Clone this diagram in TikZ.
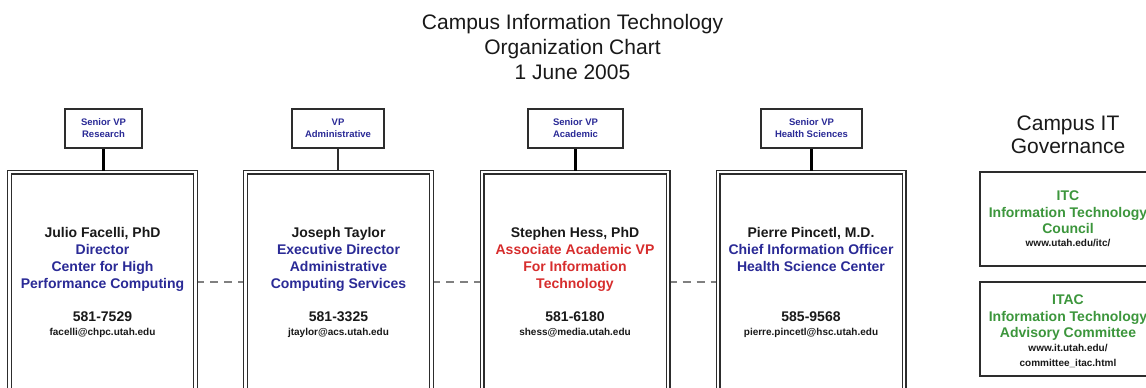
\documentclass[tikz,border=0pt]{standalone}
\usepackage{fontspec}
\setmainfont{Liberation Sans}
\definecolor{tblue}{RGB}{42,42,150}
\definecolor{tred}{RGB}{215,45,45}
\definecolor{tgreen}{RGB}{60,150,60}
\definecolor{tline}{RGB}{45,45,45}
\definecolor{ttext}{RGB}{25,25,25}
\begin{document}
\begin{tikzpicture}[x=1pt,y=-1pt,
  vpbox/.style={draw=tline, line width=1.3pt, minimum width=#1, minimum height=39pt,
    inner sep=0pt, align=center, text=tblue, font=\bfseries\fontsize{9.5}{12}\selectfont},
  bigbox/.style={draw=tline, double=white, double distance=2.6pt, line width=1.2pt,
    minimum width=186pt, minimum height=260pt, inner sep=0pt},
  govbox/.style={draw=tline, line width=1.3pt, minimum width=176pt, minimum height=94pt, inner sep=0pt},
  ln/.style={anchor=base, inner sep=0pt, font=\bfseries\fontsize{14}{17}\selectfont, text=ttext},
  sm/.style={anchor=base, inner sep=0pt, font=\bfseries\fontsize{10}{12}\selectfont, text=ttext},
  head/.style={anchor=base, inner sep=0pt, font=\fontsize{21}{25}\selectfont, text=ttext},
  thickc/.style={draw=black, line width=3pt},
  thinc/.style={draw=tline, line width=1.3pt},
  dashc/.style={draw=gray, line width=1.3pt, dash pattern=on 8pt off 6pt}
]
\useasboundingbox (0,0) rectangle (1146,388);
\clip (0,0) rectangle (1146,388);
\fill[white] (0,0) rectangle (1146,388);

% title
\node[head] (t1) at (572.5,29.5) {Campus Information Technology};
\node[head] (t2) at (572.5,54.5) {Organization Chart};
\node[head] (t3) at (572.5,79) {1 June 2005};

% VP boxes
\node[vpbox=77pt] (v1) at (103.5,128.5) {Senior VP\\Research};
\node[vpbox=92pt] (v2) at (338,128.5) {VP\\Administrative};
\node[vpbox=95pt] (v3) at (575.5,128.5) {Senior VP\\Academic};
\node[vpbox=101pt] (v4) at (811.5,128.5) {Senior VP\\Health Sciences};

% big boxes
\coordinate (dl) at (0,282);
\node[bigbox] (A) at (102.5,302) {};
\node[bigbox] (B) at (338.5,302) {};
\node[bigbox] (C) at (575,302) {};
\node[bigbox] (D) at (811,302) {};

% dashed links
\draw[dashc] (A.east |- dl) -- (B.west |- dl);
\draw[dashc] (B.east |- dl) -- (C.west |- dl);
\draw[dashc] (C.east |- dl) -- (D.west |- dl);
% redraw boxes on top
\node[bigbox] at (A) {};
\node[bigbox] at (B) {};
\node[bigbox] at (C) {};
\node[bigbox] at (D) {};

% vertical connectors
\draw[thickc] (v1.south) -- (v1.south |- A.north);
\draw[thinc] (v2.south) -- (v2.south |- B.north);
\draw[thickc] (v3.south) -- (v3.south |- C.north);
\draw[thickc] (v4.south) -- (v4.south |- D.north);

% box A
\node[ln] (a0) at (102.5,237) {Julio Facelli, PhD};
\node[ln,text=tblue] (a1) at (102.5,254) {Director};
\node[ln,text=tblue] (a2) at (102.5,271) {Center for High};
\node[ln,text=tblue] (a3) at (102.5,288) {Performance Computing};
\node[ln] (a4) at (102.5,321) {581-7529};
\node[sm] (a5) at (102.5,335) {facelli@chpc.utah.edu};

% box B
\node[ln] (b0) at (338.5,237) {Joseph Taylor};
\node[ln,text=tblue] (b1) at (338.5,254) {Executive Director};
\node[ln,text=tblue] (b2) at (338.5,271) {Administrative};
\node[ln,text=tblue] (b3) at (338.5,288) {Computing Services};
\node[ln] (b4) at (338.5,321) {581-3325};
\node[sm] (b5) at (338.5,335) {jtaylor@acs.utah.edu};

% box C
\node[ln] (c0) at (575,237) {Stephen Hess, PhD};
\node[ln,text=tred] (c1) at (575,254) {Associate Academic VP};
\node[ln,text=tred] (c2) at (575,271) {For Information};
\node[ln,text=tred] (c3) at (575,288) {Technology};
\node[ln] (c4) at (575,321) {581-6180};
\node[sm] (c5) at (575,335) {shess@media.utah.edu};

% box D
\node[ln] (d0) at (811,237) {Pierre Pincetl, M.D.};
\node[ln,text=tblue] (d1) at (811,254) {Chief Information Officer};
\node[ln,text=tblue] (d2) at (811,271) {Health Science Center};
\node[ln] (d4) at (811,321) {585-9568};
\node[sm] (d5) at (811,335) {pierre.pincetl@hsc.utah.edu};

% governance
\node[head] (g1) at (1068,130) {Campus IT};
\node[head] (g2) at (1068,153) {Governance};
\node[govbox] (itc) at (1068,219) {};
\node[govbox] (itac) at (1068,329) {};
\node[ln,text=tgreen] (i0) at (1068,200) {ITC};
\node[ln,text=tgreen] (i1) at (1068,217) {Information Technology};
\node[ln,text=tgreen] (i2) at (1068,233) {Council};
\node[sm] (i3) at (1068,246.5) {www.utah.edu/itc/};
\node[ln,text=tgreen] (j0) at (1068,304) {ITAC};
\node[ln,text=tgreen] (j1) at (1068,321) {Information Technology};
\node[ln,text=tgreen] (j2) at (1068,337) {Advisory Committee};
\node[sm] (j3) at (1068,351.5) {www.it.utah.edu/};
\node[sm] (j4) at (1068,366.5) {committee\_itac.html};
\end{tikzpicture}
\end{document}
